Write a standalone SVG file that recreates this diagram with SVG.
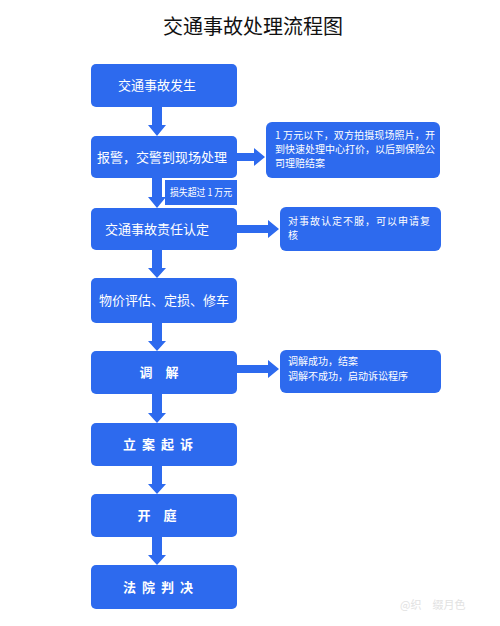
<svg xmlns="http://www.w3.org/2000/svg" width="500" height="626" viewBox="0 0 500 626">
<style>
.box{fill:#2D6AEE}
.t{font-family:"Noto Sans CJK SC","Noto Sans",sans-serif;fill:#fff;font-size:13px}
.tm{text-anchor:middle}
.s{font-family:"Noto Sans CJK SC","Noto Sans",sans-serif;fill:#fff;font-size:10px}
.arr{fill:#2D6AEE}
</style>
<rect width="500" height="626" fill="#fff"/>
<text x="253" y="34" text-anchor="middle" font-family="'Noto Sans CJK SC',sans-serif" font-size="20" fill="#111">交通事故处理流程图</text>

<g id="connectors">
  <polygon class="arr" points="152,107 162,107 162,125 166,125 157,136 148,125 152,125"/>
  <polygon class="arr" points="152,178 162,178 162,197 166,197 157,208 148,197 152,197"/>
  <polygon class="arr" points="152,250 162,250 162,268 166,268 157,278 148,268 152,268"/>
  <polygon class="arr" points="152,323 162,323 162,341 166,341 157,351 148,341 152,341"/>
  <polygon class="arr" points="152,394 162,394 162,413 166,413 157,423 148,413 152,413"/>
  <polygon class="arr" points="152,466 162,466 162,484 166,484 157,494 148,484 152,484"/>
  <polygon class="arr" points="152,537 162,537 162,555 166,555 157,565 148,555 152,555"/>
  <polygon class="arr" points="237,153 254,153 254,148 265,157 254,166 254,161 237,161"/>
  <polygon class="arr" points="237,225 268,225 268,220 279,229 268,238 268,233 237,233"/>
  <polygon class="arr" points="237,365 268,365 268,360 279,369 268,378 268,373 237,373"/>
</g>

<g id="n1"><rect class="box" x="91" y="64" width="146" height="43" rx="5"/><text class="t tm" x="157" y="90">交通事故发生</text></g>
<g id="n2"><rect class="box" x="91" y="136" width="146" height="42" rx="5"/><text class="t tm" x="162" y="162">报警，交警到现场处理</text></g>
<g id="lbl"><rect class="box" x="165" y="180" width="72" height="25"/><text class="s" x="170" y="196" font-size="8" textLength="62" lengthAdjust="spacingAndGlyphs">损失超过 1 万元</text></g>
<g id="n3"><rect class="box" x="91" y="208" width="146" height="42" rx="5"/><text class="t tm" x="157" y="234">交通事故责任认定</text></g>
<g id="n4"><rect class="box" x="91" y="278" width="146" height="45" rx="5"/><text class="t tm" x="164" y="305">物价评估、定损、修车</text></g>
<g id="n5"><rect class="box" x="91" y="351" width="146" height="43" rx="5"/><text class="t tm" x="159" y="377" font-weight="bold">调　解</text></g>
<g id="n6"><rect class="box" x="91" y="423" width="146" height="43" rx="5"/><text class="t tm" x="161" y="449" font-weight="bold" letter-spacing="6">立案起诉</text></g>
<g id="n7"><rect class="box" x="91" y="494" width="146" height="43" rx="5"/><text class="t tm" x="157" y="520" font-weight="bold">开　庭</text></g>
<g id="n8"><rect class="box" x="91" y="565" width="146" height="44" rx="5"/><text class="t tm" x="161" y="592" font-weight="bold" letter-spacing="6">法院判决</text></g>

<g id="r1"><rect class="box" x="266" y="122" width="174" height="56" rx="6"/>
<text class="s" x="275" y="139" textLength="160">1 万元以下，双方拍摄现场照片，开</text>
<text class="s" x="275" y="153" textLength="160">到快速处理中心打价，以后到保险公</text>
<text class="s" x="275" y="167">司理赔结案</text></g>
<g id="r2"><rect class="box" x="280" y="207" width="161" height="44" rx="6"/>
<text class="s" x="288" y="225" textLength="142">对事故认定不服，可以申请复</text>
<text class="s" x="288" y="239">核</text></g>
<g id="r3"><rect class="box" x="280" y="350" width="161" height="43" rx="6"/>
<text class="s" x="288" y="365" font-size="9.5">调解成功，结案</text>
<text class="s" x="288" y="380" font-size="9.5">调解不成功，启动诉讼程序</text></g>

<text x="400" y="609" font-family="'Noto Sans CJK SC',sans-serif" font-size="11" fill="#e2e2e2">@织　缀月色</text>
</svg>
